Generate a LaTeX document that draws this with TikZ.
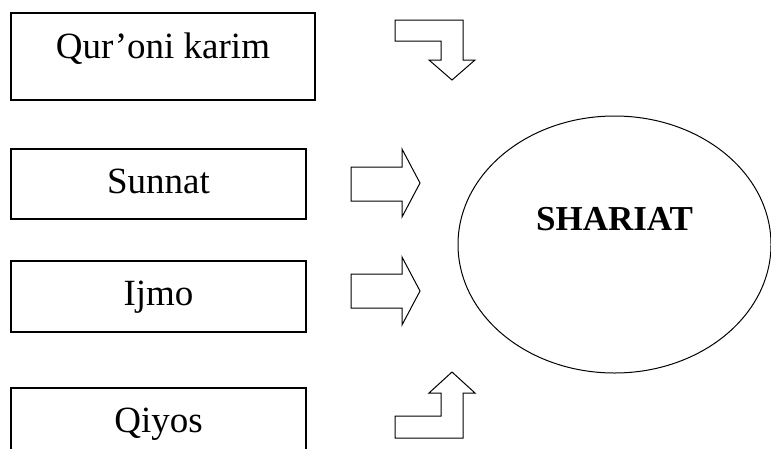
\documentclass[tikz,border=0pt]{standalone}
\usepackage{fontspec}
\setmainfont{Liberation Serif}
\usetikzlibrary{shapes.geometric}

\begin{document}
\begin{tikzpicture}[
  x=1pt, y=-1pt,
  source/.style={draw, rectangle, line width=1.2pt, inner sep=0pt,
    minimum width=295pt, minimum height=70pt,
    font=\fontsize{37}{40}\selectfont, text height=25pt, text depth=7pt},
  blockarrow/.style={draw, line width=1pt, line join=miter}
]
  \clip (0,0) rectangle (771,448);

  \node[source, minimum width=304pt, minimum height=87pt, text depth=22pt]
    (quran) at (163,56.5) {Qur’oni karim};
  \node[source] (sunnat) at (158.5,184) {Sunnat};
  \node[source, minimum height=71pt] (ijmo) at (158.5,296.5) {Ijmo};
  \node[source] (qiyos) at (158.5,423) {Qiyos};

  \node[draw, ellipse, line width=1pt, inner sep=0pt,
    minimum width=313pt, minimum height=257pt,
    font=\fontsize{35}{38}\selectfont\bfseries, text height=24pt, text depth=52pt]
    (shariat) at (614.5,244.5) {SHARIAT};

  % block arrows
  \draw[blockarrow] (395,20) -- (463,20) -- (463,60) -- (475,60) -- (452,80)
    -- (429,60) -- (441,60) -- (441,41) -- (395,41) -- cycle;
  \draw[blockarrow] (351,167) -- (402,167) -- (402,149) -- (420,183)
    -- (402,217) -- (402,201) -- (351,201) -- cycle;
  \draw[blockarrow] (351,274) -- (402,274) -- (402,257) -- (420,291)
    -- (402,325) -- (402,308) -- (351,308) -- cycle;
  \draw[blockarrow] (395,438) -- (463,438) -- (463,393) -- (475,393) -- (452,372)
    -- (429,393) -- (441,393) -- (441,416) -- (395,416) -- cycle;
\end{tikzpicture}
\end{document}
